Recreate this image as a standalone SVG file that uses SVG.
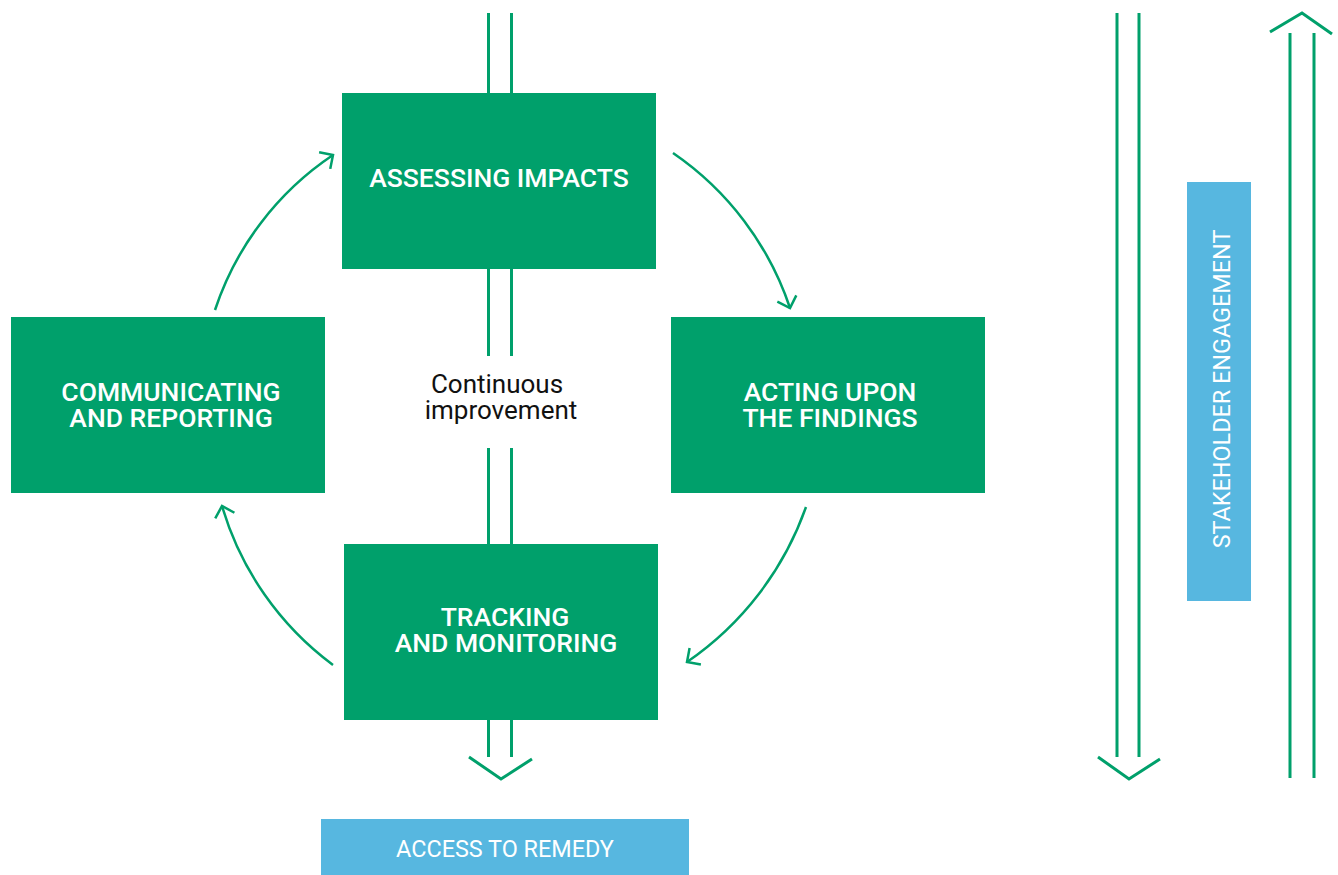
<svg xmlns="http://www.w3.org/2000/svg" width="1338" height="875" viewBox="0 0 1338 875">
<defs>
<style>
.box{fill:#00A06B}
.blue{fill:#57B7E0}
.dl{stroke:#00A06B;stroke-width:3;fill:none}
.arc{stroke:#00A06B;stroke-width:2.5;fill:none;marker-end:url(#ah)}
.chev{stroke:#00A06B;stroke-width:3;fill:none;stroke-linejoin:miter}
.t{font-family:Roboto,"Liberation Sans",sans-serif;font-size:26.5px;font-weight:500;fill:#fff;text-anchor:middle}
.c{font-family:Roboto,"Liberation Sans",sans-serif;font-size:26px;fill:#111;text-anchor:middle}
.b{font-family:Roboto,"Liberation Sans",sans-serif;font-size:23.4px;fill:#fff;text-anchor:middle}
</style>
<marker id="ah" markerUnits="userSpaceOnUse" markerWidth="30" markerHeight="30" refX="0" refY="0" viewBox="-15 -15 30 30" orient="auto">
<path d="M-10,-10 L0,0 L-10,10" fill="none" stroke="#00A06B" stroke-width="2.5"/>
</marker>
</defs>
<rect width="1338" height="875" fill="#fff"/>
<g id="connectors">
<line class="dl" x1="488.5" y1="13" x2="488.5" y2="93"/>
<line class="dl" x1="511.5" y1="13" x2="511.5" y2="93"/>
<line class="dl" x1="488.5" y1="269" x2="488.5" y2="356"/>
<line class="dl" x1="511.5" y1="269" x2="511.5" y2="356"/>
<line class="dl" x1="488.5" y1="448" x2="488.5" y2="544"/>
<line class="dl" x1="511.5" y1="448" x2="511.5" y2="544"/>
<line class="dl" x1="488.5" y1="720" x2="488.5" y2="757"/>
<line class="dl" x1="511.5" y1="720" x2="511.5" y2="757"/>
<polyline class="chev" points="469,757 501,779 532,759"/>
<line class="dl" x1="1117" y1="13" x2="1117" y2="757"/>
<line class="dl" x1="1139" y1="13" x2="1139" y2="757"/>
<polyline class="chev" points="1098,757 1129,779 1160,759"/>
<line class="dl" x1="1290" y1="33" x2="1290" y2="778"/>
<line class="dl" x1="1314" y1="33" x2="1314" y2="778"/>
<polyline class="chev" points="1270,32 1302,13 1332,34"/>
<path class="arc" d="M215,310 A300,300 0 0 1 333,155"/>
<path class="arc" d="M673,153 A305,305 0 0 1 790,308"/>
<path class="arc" d="M806,507 A315,315 0 0 1 687,662"/>
<path class="arc" d="M333,665 A305,305 0 0 1 222,506"/>
</g>
<g id="assessing">
<rect class="box" x="342" y="93" width="314" height="176"/>
<text class="t" x="499" y="187">ASSESSING IMPACTS</text>
</g>
<g id="communicating">
<rect class="box" x="11" y="317" width="314" height="176"/>
<text class="t" x="171" y="401">COMMUNICATING</text>
<text class="t" x="171" y="427">AND REPORTING</text>
</g>
<g id="acting">
<rect class="box" x="671" y="317" width="314" height="176"/>
<text class="t" x="830" y="401">ACTING UPON</text>
<text class="t" x="830" y="427">THE FINDINGS</text>
</g>
<g id="tracking">
<rect class="box" x="344" y="544" width="314" height="176"/>
<text class="t" x="505" y="626">TRACKING</text>
<text class="t" x="506" y="652">AND MONITORING</text>
</g>
<g id="continuous">
<text class="c" x="497" y="393">Continuous</text>
<text class="c" x="501" y="419">improvement</text>
</g>
<g id="stakeholder">
<rect class="blue" x="1187" y="182" width="64" height="419"/>
<text class="b" transform="translate(1230,389) rotate(-90)" x="0" y="0">STAKEHOLDER ENGAGEMENT</text>
</g>
<g id="remedy">
<rect class="blue" x="321" y="819" width="368" height="56"/>
<text class="b" x="505" y="857">ACCESS TO REMEDY</text>
</g>
</svg>
